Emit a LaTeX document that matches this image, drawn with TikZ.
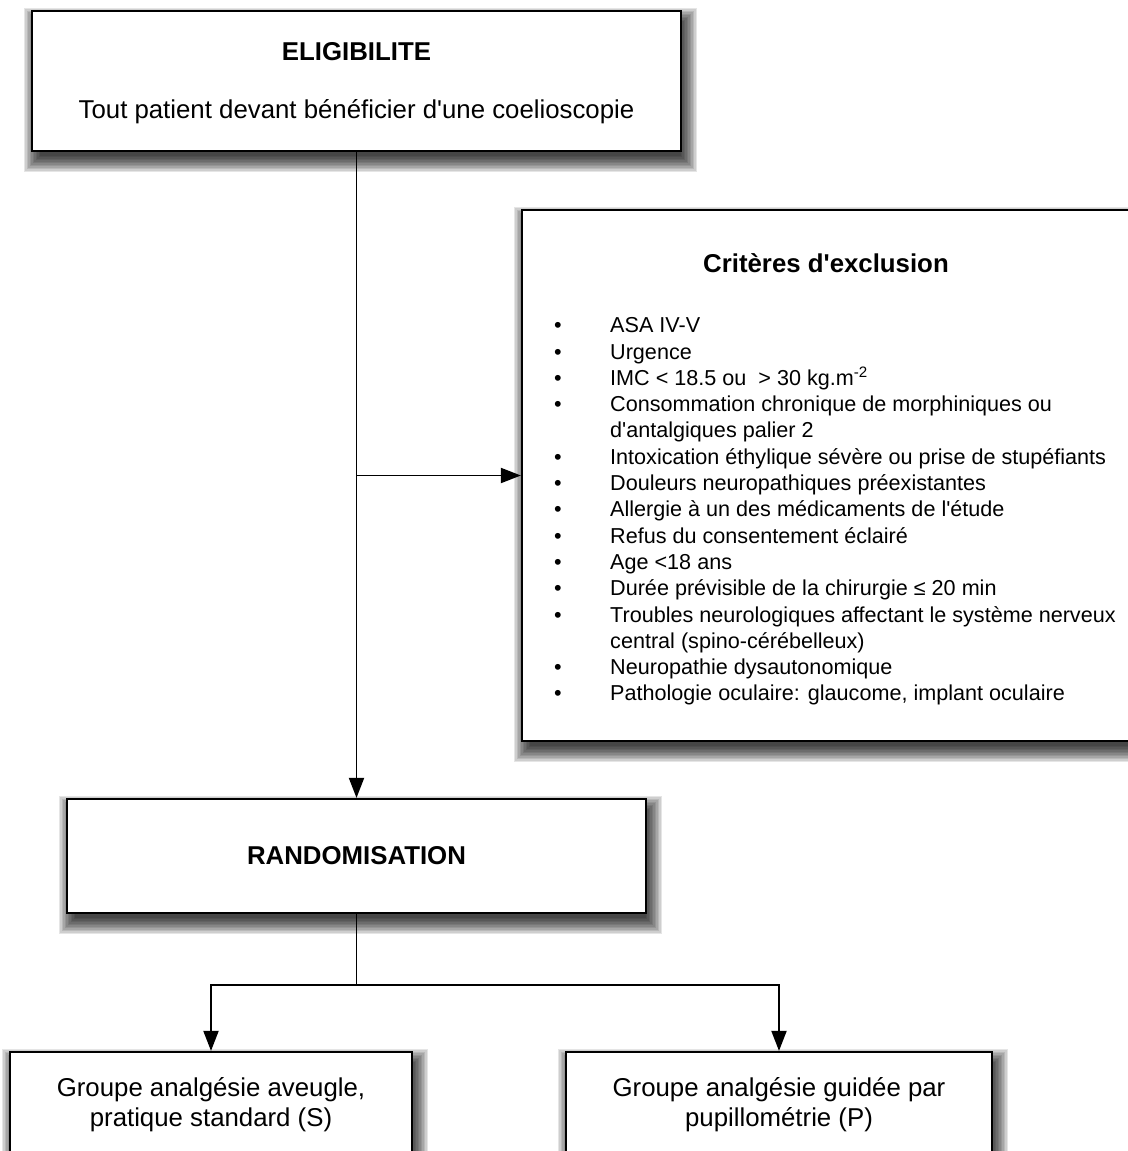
\documentclass[tikz,border=0pt]{standalone}
\usepackage{fontspec}
\newfontfamily\arialf{Liberation Sans}
\usetikzlibrary{arrows.meta,calc,backgrounds}

\newcommand\itm{\makebox[56pt][l]{•}}
\newcommand\cnt{\hspace*{56pt}}
\newcommand\softshadow[1]{%
  \begin{pgfonlayer}{background}
    \foreach \k in {0,...,11}{
      \fill[black,opacity=0.1]
        ($(#1.north west)+(-7+\k*1.5,-2+\k*1.5)$) rectangle
        ($(#1.south east)+(15-\k*1.5,20-\k*1.5)$);
    }
  \end{pgfonlayer}}

\tikzset{
  box/.style={draw=black, line width=2.2pt, fill=white, inner sep=0pt, align=center},
  conn/.style={line width=1.9pt, draw=black},
  arr/.style={conn, -{Triangle[length=20pt,width=15pt]}},
  big/.style={font=\arialf\fontsize{25.8}{29.5}\selectfont},
  bigb/.style={font=\arialf\bfseries\fontsize{25.8}{29.5}\selectfont},
  small/.style={font=\arialf\fontsize{21.6}{26.3}\selectfont},
}

\begin{document}
\begin{tikzpicture}[x=1pt,y=-1pt]
\useasboundingbox (0,0) rectangle (1127,1151);

% boxes
\node[box, minimum width=649pt, minimum height=140pt] (elig) at (356.5,81) {};
\node[bigb, anchor=base] (eligt) at (356.5,60) {ELIGIBILITE};
\node[big, anchor=base] (eligb) at (356.5,118) {Tout patient devant bénéficier d'une coelioscopie};

\node[box, minimum width=610pt, minimum height=531pt] (excl) at (827,475.5) {};
\node[bigb] (exclt) at (826,263) {Critères d'exclusion};
\node[small, anchor=north west, align=left, inner sep=0pt] (excll) at (554,317.5) {%
\itm ASA IV-V\\
\itm Urgence\\
\itm IMC < 18.5 ou \ > 30 kg.m\textsuperscript{-2}\\
\itm Consommation chronique de morphiniques ou\\
\cnt d'antalgiques palier 2\\
\itm Intoxication éthylique sévère ou prise de stupéfiants\\
\itm Douleurs neuropathiques préexistantes\\
\itm Allergie à un des médicaments de l'étude\\
\itm Refus du consentement éclairé\\
\itm Age <18 ans\\
\itm Durée prévisible de la chirurgie ≤ 20 min\\
\itm Troubles neurologiques affectant le système nerveux\\
\cnt central (spino-cérébelleux)\\
\itm Neuropathie dysautonomique\\
\itm Pathologie oculaire: glaucome, implant oculaire};

\node[box, bigb, minimum width=579pt, minimum height=114pt] (rand) at (356.5,856) {RANDOMISATION};

\node[box, big, minimum width=402pt, minimum height=105pt] (grpS) at (211,1104.5) {Groupe analgésie aveugle,\\pratique standard (S)};
\node[box, big, minimum width=426pt, minimum height=105pt] (grpP) at (779,1104.5) {Groupe analgésie guidée par\\pupillométrie (P)};

% shadows
\softshadow{elig}
\softshadow{excl}
\softshadow{rand}
\softshadow{grpS}
\softshadow{grpP}

% connectors
\coordinate (branch) at (elig.south |- excl.west);
\coordinate (split) at ($(rand.south)+(0,71)$);
\draw[arr] (elig.south) -- (rand.north);
\draw[arr] (branch) -- (excl.west);
\draw[conn] (rand.south) -- (split);
\draw[arr] (split) -| (grpS.north);
\draw[arr] (split) -| (grpP.north);
\end{tikzpicture}
\end{document}
